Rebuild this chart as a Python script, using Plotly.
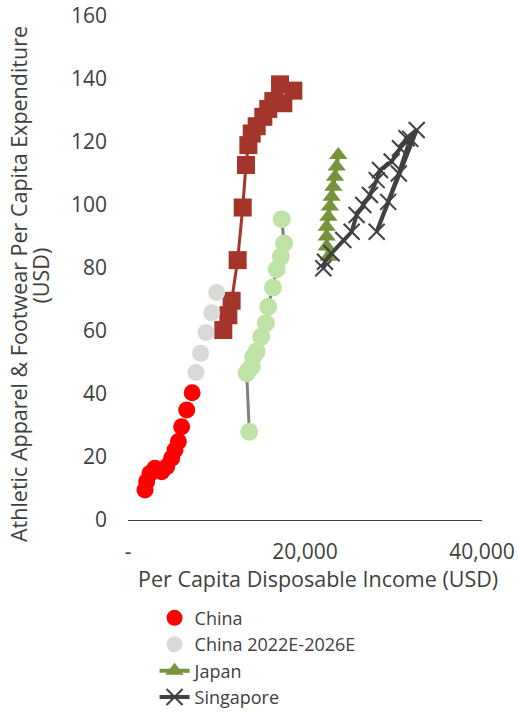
import plotly.graph_objects as go

# China (historical)
china_x = [1920, 2110, 2490, 3050, 3800, 4370, 4930, 5310, 5690, 6060, 6630, 7250]
china_y = [9.5, 12.2, 14.8, 16.4, 15.3, 16.9, 19.6, 22.2, 24.9, 29.6, 34.9, 40.4]

# China 2022E-2026E
china_e_x = [7680, 8210, 8810, 9450, 10020]
china_e_y = [46.8, 52.9, 59.5, 65.8, 72.2]

# Unlabelled series (dark red squares)
sq_x = [10770, 11340, 11710, 12390, 12960, 13330, 13600, 13980, 14540, 15290, 15850, 16420, 17180, 17550, 18680]
sq_y = [60.3, 65.0, 69.6, 82.5, 99.2, 112.7, 119.0, 122.7, 125.0, 128.0, 130.5, 133.0, 138.3, 132.3, 136.3]

# Unlabelled series (light green circles)
lg_x = [13710, 13410, 13600, 13980, 14160, 14540, 15060, 15570, 15850, 16380, 16800, 17280, 17640, 17370]
lg_y = [28.0, 46.6, 47.5, 48.7, 51.8, 53.5, 58.2, 62.5, 67.7, 73.8, 79.6, 83.6, 87.8, 95.5]

# Japan
japan_x = [22640, 22450, 22450, 22450, 22640, 22820, 23010, 23200, 23390, 23580, 23760]
japan_y = [83.6, 86.8, 90.0, 93.1, 96.3, 99.5, 102.6, 105.8, 109.0, 112.2, 115.9]

# Singapore
sg_x = [22070, 22260, 23010, 24330, 25270, 25830, 26590, 27340, 28100, 28470, 29790, 30730, 31480, 32620, 28100, 29400, 30600, 31900]
sg_y = [79.9, 82.0, 84.7, 88.9, 91.5, 96.8, 100.0, 103.2, 107.9, 111.1, 113.8, 118.0, 121.2, 123.8, 91.5, 101.0, 110.0, 121.0]

x_tickvals = [0, 20000, 40000]
x_ticktext = ["-", "20,000", "40,000"]
y_tickvals = [0, 20, 40, 60, 80, 100, 120, 140, 160]

FONT = "Open Sans"
TXT = "#404040"
FS = 21
TFS = 21.5

fig = go.Figure()

fig.add_trace(go.Scatter(
    x=lg_x, y=lg_y, mode="lines+markers", showlegend=False,
    line=dict(color="#7f7f7f", width=3),
    marker=dict(symbol="circle", size=18, color="#bfe3a4"),
))
fig.add_trace(go.Scatter(
    x=sq_x, y=sq_y, mode="lines+markers", showlegend=False,
    line=dict(color="#a3352a", width=3),
    marker=dict(symbol="square", size=18, color="#a3352a"),
))
fig.add_trace(go.Scatter(
    x=china_x, y=china_y, mode="markers", name="China",
    marker=dict(symbol="circle", size=17, color="#ff0000"),
))
fig.add_trace(go.Scatter(
    x=china_e_x, y=china_e_y, mode="markers", name="China 2022E-2026E",
    marker=dict(symbol="circle", size=17, color="#d9d9d9"),
))
fig.add_trace(go.Scatter(
    x=japan_x, y=japan_y, mode="lines+markers", name="Japan",
    line=dict(color="#77933c", width=4),
    marker=dict(symbol="triangle-up", size=16, color="#77933c"),
))
fig.add_trace(go.Scatter(
    x=sg_x, y=sg_y, mode="lines+markers", name="Singapore",
    line=dict(color="#404040", width=4),
    marker=dict(symbol="x-thin", size=16, line=dict(color="#404040", width=2)),
))

fig.update_layout(
    width=518, height=712,
    margin=dict(l=128, r=36, t=16, b=192, autoexpand=False),
    paper_bgcolor="white", plot_bgcolor="white",
    font=dict(family=FONT, size=FS, color=TXT),
    legend=dict(
        x=0.075, xanchor="left", y=-0.158, yanchor="top",
        font=dict(size=18, color=TXT), tracegroupgap=0,
        bgcolor="rgba(0,0,0,0)", itemwidth=30,
    ),
    xaxis=dict(
        range=[0, 40000], tickvals=x_tickvals, ticktext=x_ticktext,
        showgrid=False, zeroline=False, showline=True, linecolor="#404040",
        linewidth=1, ticks="", ticklabelstandoff=13, automargin=False,
        tickfont=dict(size=FS, color=TXT),
    ),
    yaxis=dict(
        range=[0, 160], tickvals=y_tickvals,
        showgrid=False, zeroline=False, showline=False, ticks="",
        ticklabelstandoff=20, automargin=False,
        tickfont=dict(size=FS, color=TXT),
    ),
    annotations=[
        dict(text="Per Capita Disposable Income (USD)", xref="paper", yref="paper",
             x=0.537, y=-0.117, xanchor="center", yanchor="middle", showarrow=False,
             font=dict(size=TFS, color=TXT)),
        dict(text="Athletic Apparel & Footwear Per Capita Expenditure",
             xref="paper", yref="paper", x=-0.311, y=0.468, xanchor="center",
             yanchor="middle", textangle=-90, showarrow=False,
             font=dict(size=TFS, color=TXT)),
        dict(text="(USD)",
             xref="paper", yref="paper", x=-0.246, y=0.485, xanchor="center",
             yanchor="middle", textangle=-90, showarrow=False,
             font=dict(size=TFS, color=TXT)),
    ],
)

fig.write_html("out.html", config={"displayModeBar": False},
               post_script="document.body.style.margin='0';")
